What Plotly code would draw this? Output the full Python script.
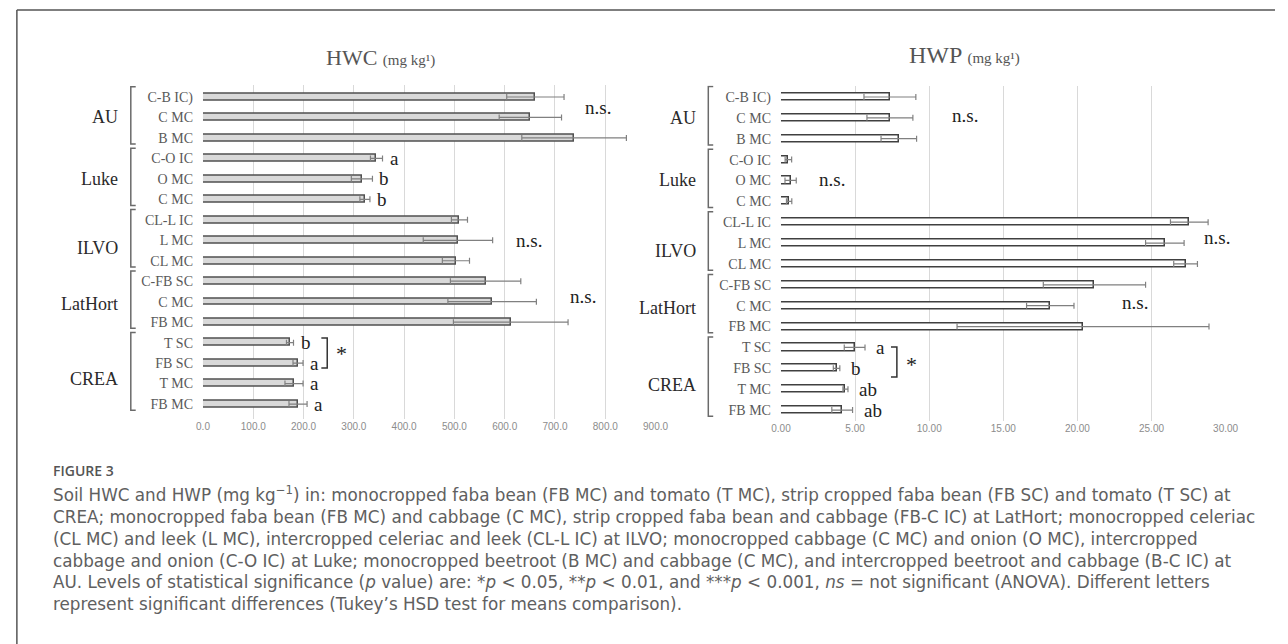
import plotly.graph_objects as go

# ---------------- data ----------------
sites = ["AU", "Luke", "ILVO", "LatHort", "CREA"]
site_rows = [(0, 2), (3, 5), (6, 8), (9, 11), (12, 15)]

hwc_labels = ["C-B IC)", "C MC", "B MC", "C-O IC", "O MC", "C MC", "CL-L IC", "L MC",
              "CL MC", "C-FB SC", "C MC", "FB MC", "T SC", "FB SC", "T MC", "FB MC"]
hwp_labels = ["C-B IC)", "C MC", "B MC", "C-O IC", "O MC", "C MC", "CL-L IC", "L MC",
              "CL MC", "C-FB SC", "C MC", "FB MC", "T SC", "FB SC", "T MC", "FB MC"]

hwc_mean = [661, 651, 738, 345, 316, 322, 510, 507, 503, 562, 575, 612, 173, 189, 181, 189]
hwc_err = [57, 62, 104, 12, 21, 10, 16, 69, 27, 70, 88, 114, 7, 10, 18, 18]
hwc_letters = ["", "", "", "a", "b", "b", "", "", "", "", "", "", "b", "a", "a", "a"]

hwp_mean = [7.35, 7.35, 7.95, 0.50, 0.65, 0.55, 27.55, 25.9, 27.3, 21.15, 18.17, 20.38,
            4.97, 3.75, 4.35, 4.13]
hwp_err = [1.75, 1.55, 1.2, 0.22, 0.38, 0.18, 1.27, 1.3, 0.8, 3.45, 1.6, 8.5,
           0.7, 0.22, 0.17, 0.7]
hwp_letters = ["", "", "", "", "", "", "", "", "", "", "", "", "a", "b", "ab", "ab"]

caption_lines = [
    "Soil HWC and HWP (mg kg<sup>−1</sup>) in: monocropped faba bean (FB MC) and tomato (T MC), strip cropped faba bean (FB SC) and tomato (T SC) at",
    "CREA; monocropped faba bean (FB MC) and cabbage (C MC), strip cropped faba bean and cabbage (FB-C IC) at LatHort; monocropped celeriac",
    "(CL MC) and leek (L MC), intercropped celeriac and leek (CL-L IC) at ILVO; monocropped cabbage (C MC) and onion (O MC), intercropped",
    "cabbage and onion (C-O IC) at Luke; monocropped beetroot (B MC) and cabbage (C MC), and intercropped beetroot and cabbage (B-C IC) at",
    "AU. Levels of statistical significance (<i>p</i> value) are: *<i>p</i> &lt; 0.05, **<i>p</i> &lt; 0.01, and ***<i>p</i> &lt; 0.001, <i>ns</i> = not significant (ANOVA). Different letters",
    "represent significant differences (Tukey’s HSD test for means comparison).",
]

# ---------------- helpers ----------------
W, H = 1288, 644
def px(x):
    return x / W
def py(y):
    return 1 - y / H

SERIF = "Liberation Serif, Times New Roman, serif"
pos = list(range(len(hwc_labels)))

fig = go.Figure()
fig.add_trace(go.Bar(
    x=hwc_mean, y=pos, orientation="h", width=0.34,
    marker=dict(color="#d9d9d9", line=dict(color="#505050", width=1.5)),
    error_x=dict(type="data", array=hwc_err, color="#808080", thickness=1.2, width=3),
    xaxis="x", yaxis="y", showlegend=False, hoverinfo="skip"))
fig.add_trace(go.Bar(
    x=hwp_mean, y=pos, orientation="h", width=0.34,
    marker=dict(color="#ffffff", line=dict(color="#404040", width=1.5)),
    error_x=dict(type="data", array=hwp_err, color="#808080", thickness=1.2, width=3),
    xaxis="x2", yaxis="y2", showlegend=False, hoverinfo="skip"))

tickfont = dict(family="Liberation Sans, Arial, sans-serif", size=10, color="#8c8c8c")
rowfont = dict(family=SERIF, size=14, color="#595959")

fig.update_layout(
    width=W, height=H, margin=dict(l=0, r=0, t=0, b=0),
    paper_bgcolor="white", plot_bgcolor="white", bargap=0,
    xaxis=dict(domain=[px(196.5), px(657.3)], range=[0, 900], dtick=100, tickformat=".1f",
               showgrid=True, gridcolor="#d9d9d9", gridwidth=1, zeroline=False,
               showline=False, ticks="", tickfont=tickfont, anchor="y"),
    yaxis=dict(domain=[py(419.4), py(84.7)], range=[15.75, -0.6], tickvals=pos,
               ticktext=hwc_labels, tickfont=rowfont, ticks="", showgrid=False,
               zeroline=False, showline=False, ticklabelstandoff=9, anchor="x"),
    xaxis2=dict(domain=[px(785), px(1237.7)], range=[0, 30], dtick=5, tickformat=".2f",
                showgrid=True, gridcolor="#d9d9d9", gridwidth=1, zeroline=False,
                showline=False, ticks="", tickfont=tickfont, anchor="y2"),
    yaxis2=dict(domain=[py(420.5), py(85.5)], range=[15.5, -0.55], tickvals=pos,
                ticktext=hwp_labels, tickfont=rowfont, ticks="", showgrid=False,
                zeroline=False, showline=False, ticklabelstandoff=9, anchor="x2"),
)

shapes = []
annotations = []

# frame
shapes.append(dict(type="line", xref="paper", yref="paper", x0=px(7), x1=1, y0=py(10), y1=py(10),
                   line=dict(color="#555555", width=1.5)))
shapes.append(dict(type="line", xref="paper", yref="paper", x0=px(7), x1=px(7), y0=py(10), y1=0,
                   line=dict(color="#555555", width=1.5)))

# titles
annotations.append(dict(xref="paper", yref="paper", x=px(320), y=py(57), xanchor="left", yanchor="middle",
                        showarrow=False,
                        text="HWC <span style='font-size:15px'>(mg kg¹)</span>",
                        font=dict(family=SERIF, size=22, color="#555555")))
annotations.append(dict(xref="paper", yref="paper", x=px(913), y=py(55), xanchor="left", yanchor="middle",
                        showarrow=False,
                        text="HWP <span style='font-size:15px'>(mg kg¹)</span>",
                        font=dict(family=SERIF, size=24, color="#555555")))

# group labels and brackets
group_y = [1, 4, 7.4, 10.1, 13.8]
for side, (yref, lab_x, br_x) in enumerate([("y", 112, 123), ("y2", 700, 711)]):
    for g, name in enumerate(sites):
        r0, r1 = site_rows[g]
        annotations.append(dict(xref="paper", yref=yref, x=px(lab_x), y=group_y[g], xanchor="right",
                                yanchor="middle", showarrow=False, text=name,
                                font=dict(family=SERIF, size=18, color="#2a2a2a")))
        yt, yb = r0 - 0.5, r1 + 0.3
        x0, x1 = px(br_x), px(br_x + 5)
        shapes.append(dict(type="path", xref="paper", yref=yref,
                           path=f"M {x1},{yt} L {x0},{yt} L {x0},{yb} L {x1},{yb}",
                           line=dict(color="#6a6a6a", width=1.5)))

# significance letters
for i, letter in enumerate(hwc_letters):
    if letter:
        annotations.append(dict(xref="x", yref="y", x=hwc_mean[i] + hwc_err[i], y=pos[i],
                                xanchor="left", yanchor="middle", xshift=5, showarrow=False,
                                text=letter, font=dict(family=SERIF, size=19, color="#222222")))
for i, letter in enumerate(hwp_letters):
    if letter:
        annotations.append(dict(xref="x2", yref="y2", x=hwp_mean[i] + hwp_err[i], y=pos[i],
                                xanchor="left", yanchor="middle", xshift=9, showarrow=False,
                                text=letter, font=dict(family=SERIF, size=19, color="#222222")))

# n.s. labels
ns_pos = [(599, 108), (528, 240), (583, 297), (972, 115), (837, 179), (1229, 238), (1145, 302)]
for (x, y) in ns_pos:
    annotations.append(dict(xref="paper", yref="paper", x=px(x), y=py(y), xanchor="center",
                            yanchor="middle", showarrow=False, text="n.s.",
                            font=dict(family=SERIF, size=19, color="#222222")))

# asterisk brackets
for (bx, ytop, ybot, sx, sy) in [(323, 338, 368, 338, 353), (903, 347, 377, 918, 364)]:
    shapes.append(dict(type="path", xref="paper", yref="paper",
                       path=f"M {px(bx-6)},{py(ytop)} L {px(bx)},{py(ytop)} L {px(bx)},{py(ybot)} L {px(bx-6)},{py(ybot)}",
                       line=dict(color="#333333", width=1.5)))
    annotations.append(dict(xref="paper", yref="paper", x=px(sx), y=py(sy), xanchor="center",
                            yanchor="middle", showarrow=False, text="*",
                            font=dict(family=SERIF, size=22, color="#222222")))

# caption
annotations.append(dict(xref="paper", yref="paper", x=px(42), y=py(470), xanchor="left", yanchor="middle",
                        showarrow=False, text="FIGURE 3",
                        font=dict(family="Open Sans, sans-serif", size=14, color="#555555", weight=600)))
annotations.append(dict(xref="paper", yref="paper", x=px(42), y=py(481), xanchor="left", yanchor="top",
                        align="left", showarrow=False, text="<br>".join(caption_lines),
                        font=dict(family="DejaVu Sans, sans-serif", size=16.8, color="#606060")))

fig.update_layout(shapes=shapes, annotations=annotations)
fig.write_html("out.html")
